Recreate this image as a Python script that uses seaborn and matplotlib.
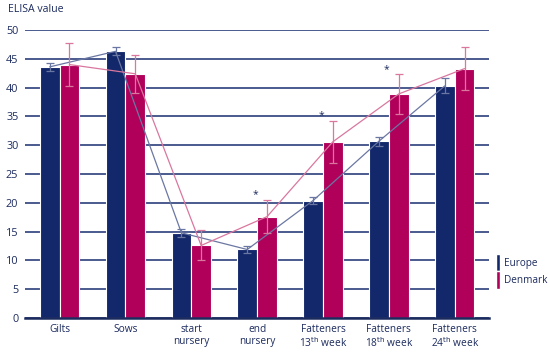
import numpy as np
import pandas as pd
import seaborn as sns
import matplotlib.pyplot as plt
from matplotlib.patches import Patch

# data
stages = ['Gilts', 'Sows', 'start\nnursery', 'end\nnursery',
          'Fatteners\n13$^{\\rm th}$ week', 'Fatteners\n18$^{\\rm th}$ week',
          'Fatteners\n24$^{\\rm th}$ week']
europe = [43.6, 46.3, 14.8, 11.9, 20.4, 30.7, 40.3]
europe_err = [0.7, 0.7, 0.7, 0.6, 0.6, 0.8, 1.3]
denmark = [44.0, 42.4, 12.6, 17.6, 30.6, 38.9, 43.3]
denmark_err = [3.8, 3.3, 2.6, 2.9, 3.6, 3.4, 3.7]
significant = [False, False, False, True, True, True, False]

navy = '#13286a'
magenta = '#b0005a'
text_col = '#1c2b5e'
grid_col = '#3d4d85'

df = pd.DataFrame({
    'stage': stages * 2,
    'value': europe + denmark,
    'region': ['Europe'] * len(stages) + ['Denmark'] * len(stages),
})

sns.set_style('white')
plt.rcParams['font.family'] = ['Open Sans', 'DejaVu Sans']
plt.rcParams['mathtext.default'] = 'regular'

fig = plt.figure(figsize=(5.5, 3.53), dpi=100)
ax = fig.add_axes([0.046, 0.099, 0.843, 0.816])

sns.barplot(data=df, x='stage', y='value', hue='region',
            palette={'Europe': navy, 'Denmark': magenta}, saturation=1,
            width=0.6, edgecolor='white', linewidth=0.8,
            errorbar=None, legend=False, ax=ax, zorder=2)

x = np.arange(len(stages))
xe, xd = x - 0.15, x + 0.15

# trend lines through bar tops
ax.plot(xe, europe, color='#6b77a3', lw=0.9, zorder=3)
ax.plot(xd, denmark, color='#d9779f', lw=0.9, zorder=3)

ax.errorbar(xe, europe, yerr=europe_err, fmt='none', ecolor='#6b77a3',
            elinewidth=0.9, capsize=3, capthick=0.9, zorder=4)
ax.errorbar(xd, denmark, yerr=denmark_err, fmt='none', ecolor='#d9779f',
            elinewidth=0.9, capsize=3, capthick=0.9, zorder=4)

for i, sig in enumerate(significant):
    if sig:
        ax.text(x[i] - 0.03, denmark[i] + denmark_err[i] + 0.9, '*',
                ha='center', va='center', fontsize=7.5, color=text_col)

ax.set_ylim(0, 50)
ax.set_xlim(-0.52, len(stages) - 0.48)
ax.set_yticks(range(0, 51, 5))
ax.yaxis.grid(True, color=grid_col, lw=1.3, zorder=0)
ax.set_axisbelow(True)
for s in ['top', 'right', 'left']:
    ax.spines[s].set_visible(False)
ax.spines['bottom'].set_color('#1c2b5e')
ax.spines['bottom'].set_linewidth(1.8)
ax.tick_params(axis='y', length=0, labelsize=7.8, colors=text_col, pad=5)
ax.tick_params(axis='x', length=0, labelsize=7.3, colors=text_col, pad=4)
for lbl in ax.get_xticklabels():
    lbl.set_linespacing(1.15)
ax.set_xlabel('')
ax.set_ylabel('')
fig.text(0.015, 0.972, 'ELISA value', fontsize=7.6, color=text_col,
         ha='left', va='center')

# legend: thin colour bars with labels
handles = [Patch(facecolor=navy, edgecolor='white'),
           Patch(facecolor=magenta, edgecolor='white')]
leg = fig.legend(handles, ['Europe', 'Denmark'], loc='center left',
                 bbox_to_anchor=(0.893, 0.232), frameon=False,
                 fontsize=7.2, handlelength=0.35, handleheight=2.3,
                 handletextpad=0.45, labelspacing=0.0, borderpad=0)
for t in leg.get_texts():
    t.set_color(text_col)

fig.savefig('out.png', dpi=100)
